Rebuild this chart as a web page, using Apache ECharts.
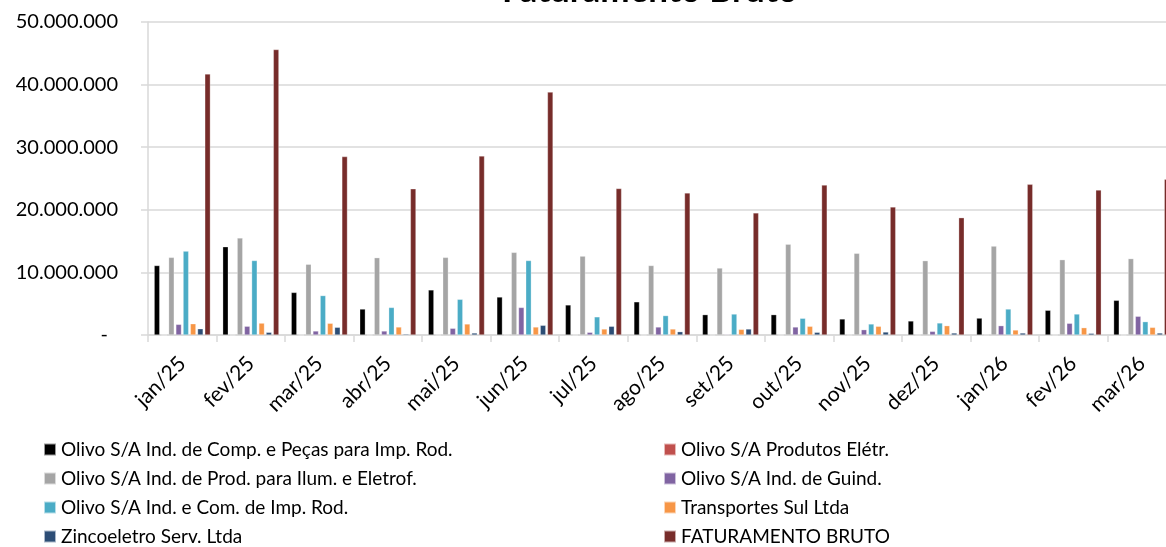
<!DOCTYPE html>
<html>
<head>
<meta charset="utf-8">
<script src="https://cdn.jsdelivr.net/npm/echarts@6/dist/echarts.min.js"></script>
<style>
  html, body { margin: 0; padding: 0; background: #fff; }
  #main { width: 1166px; height: 547px; }
</style>
</head>
<body>
<div id="main"></div>
<script>
var meses = ['jan/25', 'fev/25', 'mar/25', 'abr/25', 'mai/25', 'jun/25', 'jul/25', 'ago/25',
             'set/25', 'out/25', 'nov/25', 'dez/25', 'jan/26', 'fev/26', 'mar/26'];

var compPecas   = [11100000, 14100000, 6800000, 4150000, 7200000, 6070000, 4800000, 5300000, 3250000, 3250000, 2560000, 2240000, 2700000, 3950000, 5540000];
var prodEletr   = [0, 0, 0, 0, 0, 0, 0, 0, 0, 0, 0, 0, 0, 0, 0];
var ilumEletrof = [12400000, 15500000, 11300000, 12350000, 12400000, 13200000, 12600000, 11100000, 10700000, 14500000, 13050000, 11870000, 14200000, 12030000, 12200000];
var guind       = [1700000, 1400000, 640000, 640000, 1070000, 4400000, 430000, 1280000, 100000, 1280000, 850000, 580000, 1490000, 1870000, 2990000];
var comImpRod   = [13400000, 11900000, 6300000, 4400000, 5700000, 11900000, 2900000, 3100000, 3350000, 2670000, 1760000, 1920000, 4150000, 3350000, 2130000];
var transpSul   = [1800000, 1900000, 1870000, 1280000, 1760000, 1280000, 960000, 960000, 900000, 1390000, 1390000, 1490000, 800000, 1170000, 1220000];
var zincoeletro = [1000000, 430000, 1230000, 160000, 320000, 1550000, 1390000, 530000, 960000, 430000, 480000, 320000, 320000, 270000, 320000];
var fatBruto    = [41700000, 45600000, 28500000, 23350000, 28600000, 38800000, 23400000, 22700000, 19500000, 23950000, 20450000, 18740000, 24070000, 23160000, 24900000];

var nomes = [
    'Olivo S/A Ind. de Comp. e Peças para Imp. Rod.',
    'Olivo S/A Produtos Elétr.',
    'Olivo S/A Ind. de Prod. para Ilum. e Eletrof.',
    'Olivo S/A Ind. de Guind.',
    'Olivo S/A Ind. e Com. de Imp. Rod.',
    'Transportes Sul Ltda',
    'Zincoeletro Serv. Ltda',
    'FATURAMENTO BRUTO'
];
var valores = [compPecas, prodEletr, ilumEletrof, guind, comImpRod, transpSul, zincoeletro, fatBruto];
var cores = ['#000000', '#C0504D', '#A5A5A5', '#8064A2', '#4BACC6', '#F79646', '#2C4D75', '#772C2A'];

var fonte = 'Lato';

function milhar(v) {
    if (v === 0) return '{z|-}';
    return String(v).replace(/\B(?=(\d{3})+(?!\d))/g, '.');
}

var series = nomes.map(function (n, i) {
    return {
        name: n,
        type: 'bar',
        data: valores[i],
        barGap: '30%',
        barCategoryGap: '18%',
        itemStyle: { color: cores[i], borderColor: 'rgba(255,255,255,0.6)', borderWidth: 0.5 }
    };
});

var legendaBase = {
    orient: 'vertical',
    icon: 'rect',
    itemWidth: 12,
    itemHeight: 12,
    itemGap: 10,
    padding: 0,
    top: 440,
    height: 110,
    textStyle: { fontFamily: fonte, fontSize: 19, color: '#000' }
};

var myChart = echarts.init(document.getElementById('main'));
var option = {
    backgroundColor: '#fff',
    animation: false,
    title: {
        text: 'Faturamento Bruto',
        left: 502,
        top: -27,
        padding: 0,
        textStyle: { fontFamily: fonte, fontSize: 35, fontWeight: 'bold', color: '#000' }
    },
    legend: [
        Object.assign({}, legendaBase, { left: 43, data: [nomes[0], nomes[2], nomes[4], nomes[6]] }),
        Object.assign({}, legendaBase, { left: 663, data: [nomes[1], nomes[3], nomes[5], nomes[7]] })
    ],
    grid: { left: 148, right: -10, top: 22, bottom: 212, containLabel: false, outerBoundsMode: 'none' },
    xAxis: {
        type: 'category',
        data: meses,
        axisLine: { lineStyle: { color: '#d9d9d9', width: 1.5 } },
        axisTick: { show: true, length: 7, lineStyle: { color: '#d9d9d9', width: 1.5 } },
        axisLabel: {
            rotate: 45,
            margin: 25,
            interval: 0,
            color: '#000',
            fontFamily: fonte,
            fontSize: 21
        }
    },
    yAxis: {
        type: 'value',
        min: 0,
        max: 50000000,
        interval: 10000000,
        axisLine: { show: true, lineStyle: { color: '#d9d9d9', width: 1.5 } },
        axisTick: { show: true, length: 7, lineStyle: { color: '#d9d9d9', width: 1.5 } },
        splitLine: { lineStyle: { color: '#d9d9d9', width: 1.5 } },
        axisLabel: {
            margin: 30,
            color: '#000',
            fontFamily: fonte,
            fontSize: 20,
            formatter: milhar,
            rich: { z: { fontFamily: fonte, fontSize: 20, color: '#000', padding: [0, 10, 0, 0] } }
        }
    },
    series: series
};
myChart.setOption(option);
</script>
</body>
</html>
